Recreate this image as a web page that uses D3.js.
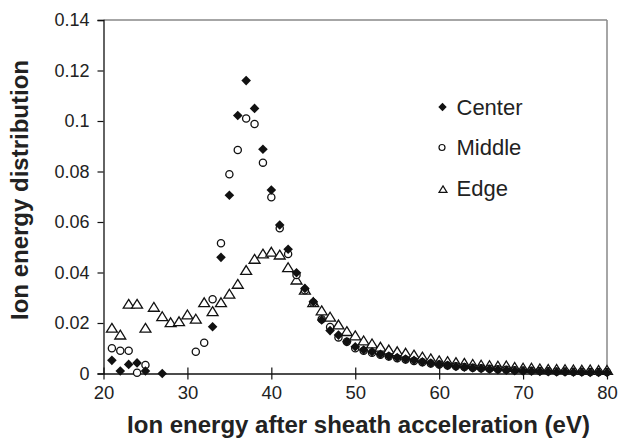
<!DOCTYPE html>
<html><head><meta charset="utf-8">
<script src="https://cdn.jsdelivr.net/npm/d3@7/dist/d3.min.js"></script>
<style>body{margin:0;background:#fff}svg{display:block}text{font-family:"Liberation Sans",Arial,sans-serif}</style>
</head><body><svg id="c" width="618" height="440"></svg>
<script>
const energies = d3.range(21, 81);
const centerValues = [0.0052,0.0010,0.0036,0.0042,0.0010,null,0.0000,null,null,null,null,null,0.0185,0.0460,0.0706,0.1022,0.1160,0.1050,0.0888,0.0727,0.0588,0.0492,0.0399,0.0337,0.0284,0.0212,0.0170,0.0152,0.0126,0.0106,0.0093,0.0086,0.0076,0.0069,0.0063,0.0057,0.0052,0.0046,0.0041,0.0036,0.0032,0.0028,0.0025,0.0022,0.0020,0.0017,0.0015,0.0013,0.0011,0.0010,0.0009,0.0008,0.0007,0.0006,0.0006,0.0005,0.0005,0.0004,0.0004,0.0004];
const middleValues = [0.0100,0.0090,0.0090,0.0003,0.0034,null,null,null,null,null,0.0086,0.0122,0.0294,0.0516,0.0789,0.0885,0.1010,0.0988,0.0835,0.0698,0.0575,0.0473,0.0390,0.0330,0.0280,0.0215,0.0184,0.0143,0.0126,0.0100,0.0090,0.0082,0.0074,0.0067,0.0060,0.0055,0.0050,0.0045,0.0040,0.0036,0.0032,0.0029,0.0026,0.0023,0.0021,0.0019,0.0017,0.0015,0.0013,0.0012,0.0011,0.0010,0.0009,0.0008,0.0008,0.0007,0.0007,0.0006,0.0006,0.0006];
const edgeValues = [0.0179,0.0152,0.0274,0.0274,0.0179,0.0262,0.0225,0.0201,0.0205,0.0232,0.0215,0.0280,0.0245,0.0280,0.0314,0.0353,0.0408,0.0452,0.0473,0.0480,0.0469,0.0419,0.0370,0.0330,0.0280,0.0248,0.0223,0.0192,0.0166,0.0149,0.0129,0.0117,0.0104,0.0093,0.0086,0.0080,0.0073,0.0065,0.0058,0.0050,0.0047,0.0043,0.0040,0.0036,0.0033,0.0031,0.0029,0.0030,0.0024,0.0021,0.0021,0.0018,0.0016,0.0016,0.0015,0.0014,0.0013,0.0014,0.0012,0.0012];
const seriesNames = ["Center","Middle","Edge"];
const xTicks = [20,30,40,50,60,70,80];
const yTicks = [0,0.02,0.04,0.06,0.08,0.1,0.12,0.14];
const xTitle = "Ion energy after sheath acceleration (eV)";
const yTitle = "Ion energy distribution";

const svg = d3.select("#c");
const L=103.5, R=607, T=20, B=373.5;
const x = d3.scaleLinear().domain([20,80]).range([L,R]);
const y = d3.scaleLinear().domain([0,0.14]).range([B,T]);

svg.append("line").attr("x1",L).attr("x2",R).attr("y1",T).attr("y2",T).attr("stroke","#888").attr("stroke-width",1.5);
svg.append("line").attr("x1",R).attr("x2",R).attr("y1",T).attr("y2",B).attr("stroke","#888").attr("stroke-width",1.5);

const yAxis = svg.append("g").attr("transform",`translate(${L},0)`)
  .call(d3.axisLeft(y).tickValues(yTicks).tickSize(6).tickPadding(8).tickFormat(d=>d===0?"0":String(+d.toFixed(2))));
yAxis.selectAll("text").attr("font-size",18).attr("fill","#222").attr("font-family","Liberation Sans, Arial, sans-serif");
yAxis.select(".domain").attr("stroke","#111").attr("stroke-width",1.3);
yAxis.selectAll(".tick line").attr("stroke","#111").attr("stroke-width",1.2);

const xAxis = svg.append("g").attr("transform",`translate(0,${B})`)
  .call(d3.axisBottom(x).tickValues(xTicks).tickSizeInner(6).tickSizeOuter(0).tickPadding(6));
xAxis.selectAll(".tick line").attr("y1",-6).attr("y2",6).attr("stroke","#111").attr("stroke-width",1.2);
xAxis.selectAll("text").attr("font-size",18.5).attr("fill","#222").attr("font-family","Liberation Sans, Arial, sans-serif");
xAxis.select(".domain").attr("stroke","#111").attr("stroke-width",1.3);

svg.append("text").attr("x",358.5).attr("y",433).attr("text-anchor","middle")
  .attr("font-size",24).attr("font-weight","bold").attr("fill","#222").text(xTitle);
svg.append("text").attr("transform","translate(28,190) rotate(-90)").attr("text-anchor","middle")
  .attr("font-size",24).attr("font-weight","bold").attr("fill","#222").text(yTitle);

const diamond = s => `M0,${-s}L${s},0L0,${s}L${-s},0Z`;
const tri = s => `M0,${-s*0.95}L${s*1.05},${s*0.75}L${-s*1.05},${s*0.75}Z`;

function pts(vals){ return energies.map((e,i)=>({e,v:vals[i]})).filter(d=>d.v!==null); }

svg.append("g").selectAll("path").data(pts(edgeValues)).join("path")
  .attr("transform",d=>`translate(${x(d.e)},${y(d.v)})`).attr("d",tri(5.2))
  .attr("fill","#fff").attr("stroke","#111").attr("stroke-width",1.3);
svg.append("g").selectAll("circle").data(pts(middleValues)).join("circle")
  .attr("cx",d=>x(d.e)).attr("cy",d=>y(d.v)).attr("r",3.6)
  .attr("fill","#fff").attr("stroke","#111").attr("stroke-width",1.3);
svg.append("g").selectAll("path").data(pts(centerValues)).join("path")
  .attr("transform",d=>`translate(${x(d.e)},${y(d.v)})`).attr("d",diamond(4.8))
  .attr("fill","#111");

const lg = svg.append("g");
const ly = [107,147.5,188.5];
lg.append("path").attr("transform",`translate(442.5,${ly[0]})`).attr("d",diamond(4.2)).attr("fill","#111");
lg.append("circle").attr("cx",442).attr("cy",ly[1]).attr("r",3).attr("fill","#fff").attr("stroke","#111").attr("stroke-width",1.2);
lg.append("path").attr("transform",`translate(443,${ly[2]+1})`).attr("d",tri(3.8)).attr("fill","#fff").attr("stroke","#111").attr("stroke-width",1.2);
seriesNames.forEach((n,i)=>{
  lg.append("text").attr("x",456.5).attr("y",ly[i]+7.5).attr("font-size",22).attr("fill","#222").text(n);
});
</script></body></html>
